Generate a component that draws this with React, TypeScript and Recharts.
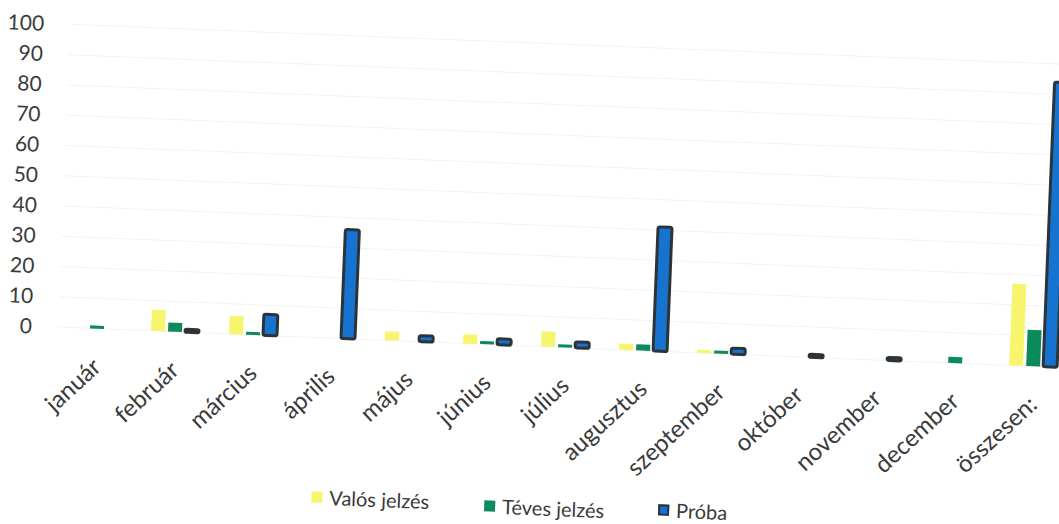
import React from 'react';
import { BarChart, Bar, XAxis, YAxis, CartesianGrid } from 'recharts';

const months = [
  'január', 'február', 'március', 'április', 'május', 'június', 'július',
  'augusztus', 'szeptember', 'október', 'november', 'december', 'összesen:',
];
const valosJelzes = [0, 7, 6, 0, 3, 3, 5, 2, 1, 0, 0, 0, 27];
const tevesJelzes = [1, 3, 1, 0, 0, 1, 1, 2, 1, 0, 0, 2, 12];
const proba = [0, 1, 7, 36, 2, 2, 2, 41, 2, 1, 1, 0, 94];
const yTicks = [0, 10, 20, 30, 40, 50, 60, 70, 80, 90, 100];

const chartData = months.map((month, i) => ({
  month,
  valos: valosJelzes[i],
  teves: tevesJelzes[i],
  proba: proba[i],
}));

const FONT = 'Lato, "Open Sans", sans-serif';
const TEXT = '#3a3a3a';
const YELLOW = '#f7f56e';
const GREEN = '#0b8a5c';
const BLUE = '#1673d0';
const EDGE = '#2d3439';

// keretes oszlop, nullánál nem rajzol semmit
const ProbaShape = (props: any) => {
  const { x, y, width, height } = props;
  if (!height || height <= 0) return <g />;
  return (
    <rect x={x} y={y} width={width} height={height} rx={2} fill={BLUE} stroke={EDGE} strokeWidth={3} strokeLinejoin="round" />
  );
};

const legendItems = [
  { label: 'Valós jelzés', color: YELLOW, left: 321, top: 493 },
  { label: 'Téves jelzés', color: GREEN, left: 494, top: 495 },
  { label: 'Próba', color: BLUE, left: 668, top: 492, edge: true },
];

export default function App() {
  return (
    <div style={{ position: 'absolute', left: 0, top: 0, width: 1059, height: 524, overflow: 'hidden', background: '#fff', fontFamily: FONT }}>
      <div style={{ position: 'absolute', left: 0, top: 0, width: 1100, height: 524, transform: 'rotate(2.3deg)', transformOrigin: '530px 262px' }}>
        <BarChart
          width={1100}
          height={524}
          data={chartData}
          margin={{ top: 43, right: 24, left: 0, bottom: 0 }}
          barSize={14}
          barGap={3}
        >
          <CartesianGrid vertical={false} stroke="#f3f3f3" />
          <XAxis
            dataKey="month"
            height={178}
            interval={0}
            axisLine={false}
            tickLine={false}
            tickMargin={22}
            angle={-45}
            textAnchor="end"
            tick={{ fontSize: 24, fill: TEXT, fontFamily: FONT, dx: -5 }}
          />
          <YAxis
            width={61}
            domain={[0, 100]}
            ticks={yTicks}
            axisLine={false}
            tickLine={false}
            tickMargin={20}
            tick={{ fontSize: 21, fill: TEXT, fontFamily: FONT }}
          />
          <Bar dataKey="valos" name="Valós jelzés" fill={YELLOW} isAnimationActive={false} />
          <Bar dataKey="teves" name="Téves jelzés" fill={GREEN} isAnimationActive={false} />
          <Bar dataKey="proba" name="Próba" fill={BLUE} shape={ProbaShape} isAnimationActive={false} />
        </BarChart>
        {legendItems.map((item) => (
          <div
            key={item.label}
            style={{ position: 'absolute', left: item.left, top: item.top, display: 'flex', alignItems: 'center', fontSize: 20, lineHeight: '24px', color: TEXT, whiteSpace: 'nowrap' }}
          >
            <span
              style={{
                display: 'inline-block',
                width: 11,
                height: 11,
                marginRight: 7,
                background: item.color,
                boxSizing: 'border-box',
                border: item.edge ? `2px solid ${EDGE}` : 'none',
              }}
            />
            {item.label}
          </div>
        ))}
      </div>
    </div>
  );
}
